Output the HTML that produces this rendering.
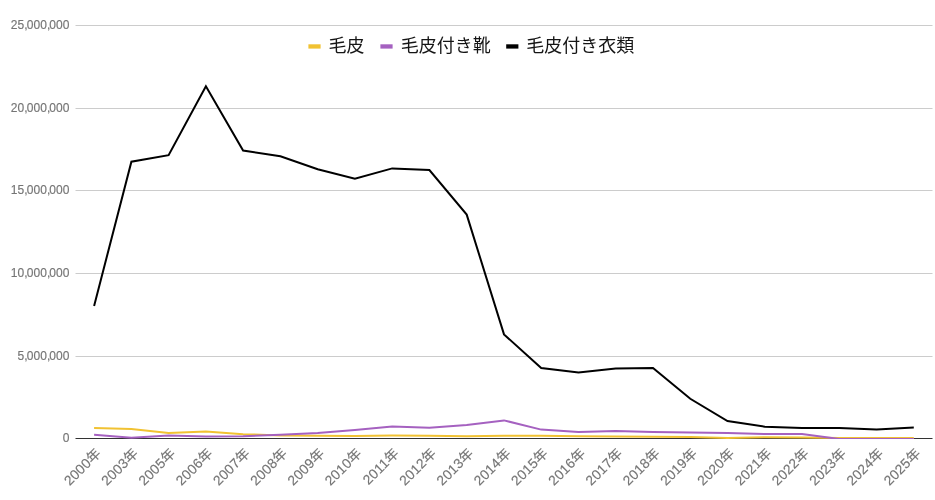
<!DOCTYPE html>
<html lang="ja">
<head>
<meta charset="utf-8">
<title>chart</title>
<style>
html,body{margin:0;padding:0;background:#fff;}
body{width:935px;height:500px;overflow:hidden;}
svg{display:block;}
.ax{font-family:"Liberation Sans","Noto Sans CJK JP",sans-serif;fill:#757575;stroke:#757575;stroke-width:0.15px;}
.yl{font-size:12px;text-anchor:end;letter-spacing:0.07px;}
.xl{font-size:13.8px;letter-spacing:0.2px;text-anchor:end;}
.lg{font-family:"Liberation Sans","Noto Sans CJK JP",sans-serif;font-size:18px;fill:#151515;}
.s{fill:none;stroke-width:2;stroke-linejoin:miter;stroke-linecap:butt;}
</style>
</head>
<body>
<svg width="935" height="500" viewBox="0 0 935 500">
<rect x="0" y="0" width="935" height="500" fill="#ffffff"/>

<g stroke="#cccccc" stroke-width="1">
<line x1="75.5" y1="25.5" x2="932.5" y2="25.5"/>
<line x1="75.5" y1="108.5" x2="932.5" y2="108.5"/>
<line x1="75.5" y1="190.5" x2="932.5" y2="190.5"/>
<line x1="75.5" y1="273.5" x2="932.5" y2="273.5"/>
<line x1="75.5" y1="356.5" x2="932.5" y2="356.5"/>
</g>
<g class="ax yl">
<text x="69.5" y="29">25<tspan letter-spacing="-1">,</tspan>000<tspan letter-spacing="-1">,</tspan>000</text>
<text x="69.5" y="112">20<tspan letter-spacing="-1">,</tspan>000<tspan letter-spacing="-1">,</tspan>000</text>
<text x="69.5" y="194">15<tspan letter-spacing="-1">,</tspan>000<tspan letter-spacing="-1">,</tspan>000</text>
<text x="69.5" y="277">10<tspan letter-spacing="-1">,</tspan>000<tspan letter-spacing="-1">,</tspan>000</text>
<text x="69.5" y="360">5<tspan letter-spacing="-1">,</tspan>000<tspan letter-spacing="-1">,</tspan>000</text>
<text x="69.5" y="442">0</text>
</g>
<line x1="75.5" y1="438.5" x2="932.5" y2="438.5" stroke="#333333" stroke-width="1"/>
<clipPath id="plot"><rect x="75" y="20" width="858" height="419"/></clipPath><g clip-path="url(#plot)">
<polyline class="s" stroke="#f1c232" points="94.1,427.9 131.4,429.1 168.6,432.9 205.9,431.6 243.1,434.2 280.4,435.4 317.7,435.8 354.9,436.0 392.2,435.6 429.4,435.8 466.7,436.2 504.0,435.8 541.2,435.8 578.5,436.2 615.7,436.6 653.0,436.8 690.3,437.0 727.5,437.9 764.8,437.3 802.0,437.5 839.3,437.9 876.6,437.9 913.8,437.9"/>
<polyline class="s" stroke="#a561c0" points="94.1,434.7 131.4,437.7 168.6,435.6 205.9,436.6 243.1,436.2 280.4,434.7 317.7,433.1 354.9,430.0 392.2,426.4 429.4,427.7 466.7,425.0 504.0,420.4 541.2,429.6 578.5,432.0 615.7,431.1 653.0,432.0 690.3,432.5 727.5,433.1 764.8,434.0 802.0,434.0 839.3,439.0 876.6,439.0 913.8,439.0"/>
<polyline class="s" stroke="#000000" points="94.1,305.9 131.4,161.7 168.6,155.2 205.9,86.3 243.1,150.5 280.4,156.3 317.7,169.3 354.9,178.8 392.2,168.4 429.4,170.1 466.7,214.6 504.0,334.4 541.2,368.0 578.5,372.4 615.7,368.5 653.0,368.0 690.3,398.8 727.5,421.0 764.8,426.7 802.0,427.9 839.3,428.1 876.6,429.5 913.8,427.6"/>
</g>
<g class="ax xl">
<text x="101.9" y="454.1" transform="rotate(-45 101.9 454.1)">2000年</text>
<text x="139.2" y="454.1" transform="rotate(-45 139.2 454.1)">2003年</text>
<text x="176.4" y="454.1" transform="rotate(-45 176.4 454.1)">2005年</text>
<text x="213.7" y="454.1" transform="rotate(-45 213.7 454.1)">2006年</text>
<text x="250.9" y="454.1" transform="rotate(-45 250.9 454.1)">2007年</text>
<text x="288.2" y="454.1" transform="rotate(-45 288.2 454.1)">2008年</text>
<text x="325.5" y="454.1" transform="rotate(-45 325.5 454.1)">2009年</text>
<text x="362.7" y="454.1" transform="rotate(-45 362.7 454.1)">2010年</text>
<text x="400.0" y="454.1" transform="rotate(-45 400.0 454.1)">2011年</text>
<text x="437.2" y="454.1" transform="rotate(-45 437.2 454.1)">2012年</text>
<text x="474.5" y="454.1" transform="rotate(-45 474.5 454.1)">2013年</text>
<text x="511.8" y="454.1" transform="rotate(-45 511.8 454.1)">2014年</text>
<text x="549.0" y="454.1" transform="rotate(-45 549.0 454.1)">2015年</text>
<text x="586.3" y="454.1" transform="rotate(-45 586.3 454.1)">2016年</text>
<text x="623.5" y="454.1" transform="rotate(-45 623.5 454.1)">2017年</text>
<text x="660.8" y="454.1" transform="rotate(-45 660.8 454.1)">2018年</text>
<text x="698.1" y="454.1" transform="rotate(-45 698.1 454.1)">2019年</text>
<text x="735.3" y="454.1" transform="rotate(-45 735.3 454.1)">2020年</text>
<text x="772.6" y="454.1" transform="rotate(-45 772.6 454.1)">2021年</text>
<text x="809.8" y="454.1" transform="rotate(-45 809.8 454.1)">2022年</text>
<text x="847.1" y="454.1" transform="rotate(-45 847.1 454.1)">2023年</text>
<text x="884.4" y="454.1" transform="rotate(-45 884.4 454.1)">2024年</text>
<text x="921.6" y="454.1" transform="rotate(-45 921.6 454.1)">2025年</text>
</g>
<g>
<rect x="308.4" y="44.3" width="12.2" height="4.3" fill="#f1c232"/>
<text class="lg" x="328.6" y="51.5">毛皮</text>
<rect x="380.4" y="44.3" width="12.2" height="4.3" fill="#a561c0"/>
<text class="lg" x="400.8" y="51.5">毛皮付き靴</text>
<rect x="506.2" y="44.3" width="12.2" height="4.3" fill="#000000"/>
<text class="lg" x="526.3" y="51.5">毛皮付き衣類</text>
</g>
</svg>
</body>
</html>
